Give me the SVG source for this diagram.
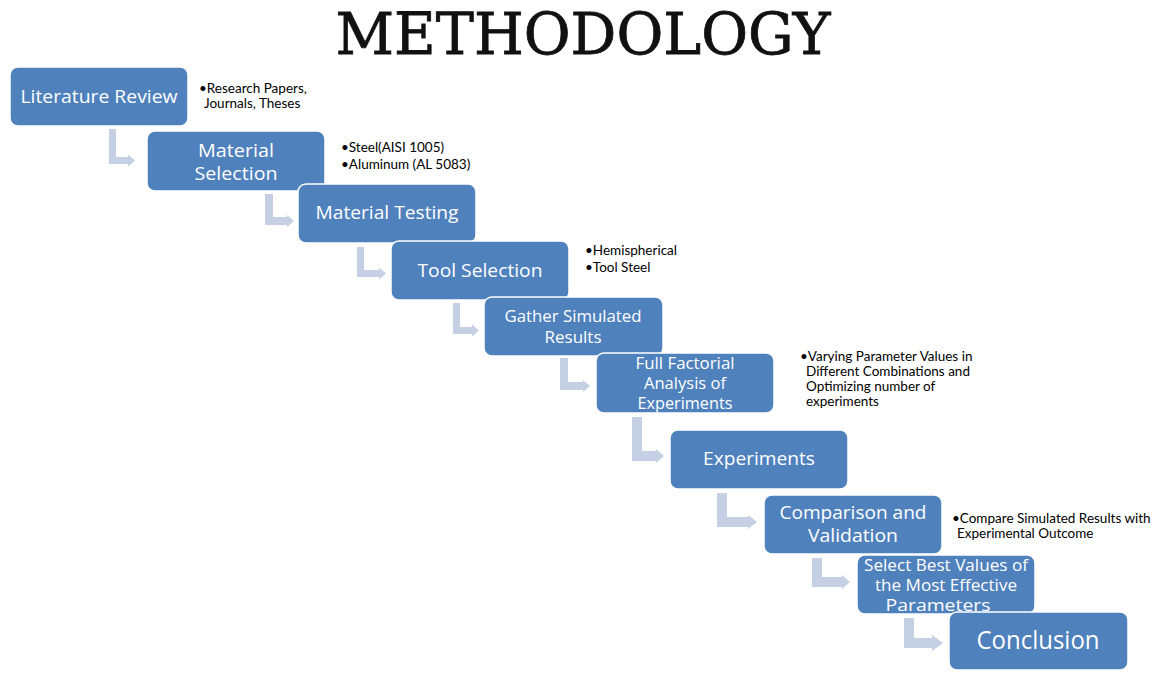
<svg xmlns="http://www.w3.org/2000/svg" width="1152" height="673" viewBox="0 0 1152 673">
<style>
.box{fill:#4F81BD;stroke:#FFFFFF;stroke-width:1.5}
.lbl{fill:#FFFFFF;font-family:"Open Sans","Liberation Sans",sans-serif;font-size:19px;text-anchor:middle}
.sm{font-size:16px}
.big{font-size:25px}
.note{fill:#000000;font-family:Lato,"Liberation Sans",sans-serif;font-size:13.5px}
.arr{fill:#C5D0E4}
.title{fill:#111111;stroke:#111111;stroke-width:0.8;font-family:"DejaVu Serif",serif;font-size:58px;text-anchor:middle}
</style>
<rect width="1152" height="673" fill="#FFFFFF"/>
<text class="title" x="583" y="54" textLength="495" lengthAdjust="spacingAndGlyphs">METHODOLOGY</text>

<g id="connectors">
<path class="arr" d="M109,129 H116 V157 H128 V154.5 L135,160.5 L128,166.5 V164 H109 Z"/>
<path class="arr" d="M265,194 H273 V217 H287 V215 L294,221 L287,227 V225 H265 Z"/>
<path class="arr" d="M357,247 H364 V270 H379 V267.5 L386,273.5 L379,279.5 V277 H357 Z"/>
<path class="arr" d="M453,303 H460 V327 H472 V324.5 L479,330.5 L472,336.5 V334 H453 Z"/>
<path class="arr" d="M560,358 H568 V382 H583 V380 L590,386 L583,392 V390 H560 Z"/>
<path class="arr" d="M632,417 H642 V451 H656 V449 L664,456 L656,463 V461 H632 Z"/>
<path class="arr" d="M717,493 H727 V517 H748 V515 L757,522 L748,529 V527 H717 Z"/>
<path class="arr" d="M812,558 H822 V577 H842 V575 L850,582 L842,589 V587 H812 Z"/>
<path class="arr" d="M904,618 H914 V638 H932 V635 L943,643 L932,651 V648 H904 Z"/>
</g>

<g id="n1">
<rect class="box" x="10" y="67" width="178" height="59" rx="8"/>
<text class="lbl" x="99" y="103" textLength="157" lengthAdjust="spacingAndGlyphs">Literature Review</text>
<text class="note" x="199" y="93">•Research Papers,</text>
<text class="note" x="204" y="108">Journals, Theses</text>
</g>
<g id="n2">
<rect class="box" x="147" y="131" width="178" height="60" rx="8"/>
<text class="lbl" x="236" y="157" textLength="76" lengthAdjust="spacingAndGlyphs">Material</text>
<text class="lbl" x="236" y="180" textLength="83" lengthAdjust="spacingAndGlyphs">Selection</text>
<text class="note" x="341" y="152">•Steel(AISI 1005)</text>
<text class="note" x="341" y="169">•Aluminum (AL 5083)</text>
</g>
<g id="n3">
<rect class="box" x="298" y="184" width="178" height="59" rx="8"/>
<text class="lbl" x="387" y="219" textLength="143" lengthAdjust="spacingAndGlyphs">Material Testing</text>
</g>
<g id="n4">
<rect class="box" x="391" y="241" width="178" height="59" rx="8"/>
<text class="lbl" x="480" y="277" textLength="125" lengthAdjust="spacingAndGlyphs">Tool Selection</text>
<text class="note" x="585" y="255">•Hemispherical</text>
<text class="note" x="585" y="272">•Tool Steel</text>
</g>
<g id="n5">
<rect class="box" x="484" y="297" width="179" height="59" rx="8"/>
<text class="lbl sm" x="573" y="322" textLength="137" lengthAdjust="spacingAndGlyphs">Gather Simulated</text>
<text class="lbl sm" x="573" y="343" textLength="57" lengthAdjust="spacingAndGlyphs">Results</text>
</g>
<g id="n6">
<rect class="box" x="596" y="353" width="178" height="60" rx="8"/>
<text class="lbl sm" x="685" y="369" textLength="99" lengthAdjust="spacingAndGlyphs">Full Factorial</text>
<text class="lbl sm" x="685" y="389" textLength="82" lengthAdjust="spacingAndGlyphs">Analysis of</text>
<text class="lbl sm" x="685" y="409" textLength="95" lengthAdjust="spacingAndGlyphs">Experiments</text>
<text class="note" x="800" y="361">•Varying Parameter Values in</text>
<text class="note" x="806" y="376">Different Combinations and</text>
<text class="note" x="806" y="391">Optimizing number of</text>
<text class="note" x="806" y="406">experiments</text>
</g>
<g id="n7">
<rect class="box" x="670" y="430" width="178" height="59" rx="8"/>
<text class="lbl" x="759" y="465" textLength="112" lengthAdjust="spacingAndGlyphs">Experiments</text>
</g>
<g id="n8">
<rect class="box" x="764" y="495" width="178" height="59" rx="8"/>
<text class="lbl" x="853" y="519" textLength="147" lengthAdjust="spacingAndGlyphs">Comparison and</text>
<text class="lbl" x="853" y="542" textLength="90" lengthAdjust="spacingAndGlyphs">Validation</text>
<text class="note" x="952" y="523">•Compare Simulated Results with</text>
<text class="note" x="957" y="538">Experimental Outcome</text>
</g>
<g id="n9">
<rect class="box" x="857" y="555" width="178" height="59" rx="8"/>
<text class="lbl sm" x="946" y="571" textLength="164" lengthAdjust="spacingAndGlyphs">Select Best Values of</text>
<text class="lbl sm" x="946" y="591" textLength="142" lengthAdjust="spacingAndGlyphs">the Most Effective</text>
<text class="lbl sm" x="938" y="611" textLength="105" lengthAdjust="spacingAndGlyphs">Parameters</text>
</g>
<g id="n10">
<rect class="box" x="949" y="612" width="179" height="58" rx="8"/>
<text class="lbl big" x="1038" y="649" textLength="123" lengthAdjust="spacingAndGlyphs">Conclusion</text>
</g>
</svg>
